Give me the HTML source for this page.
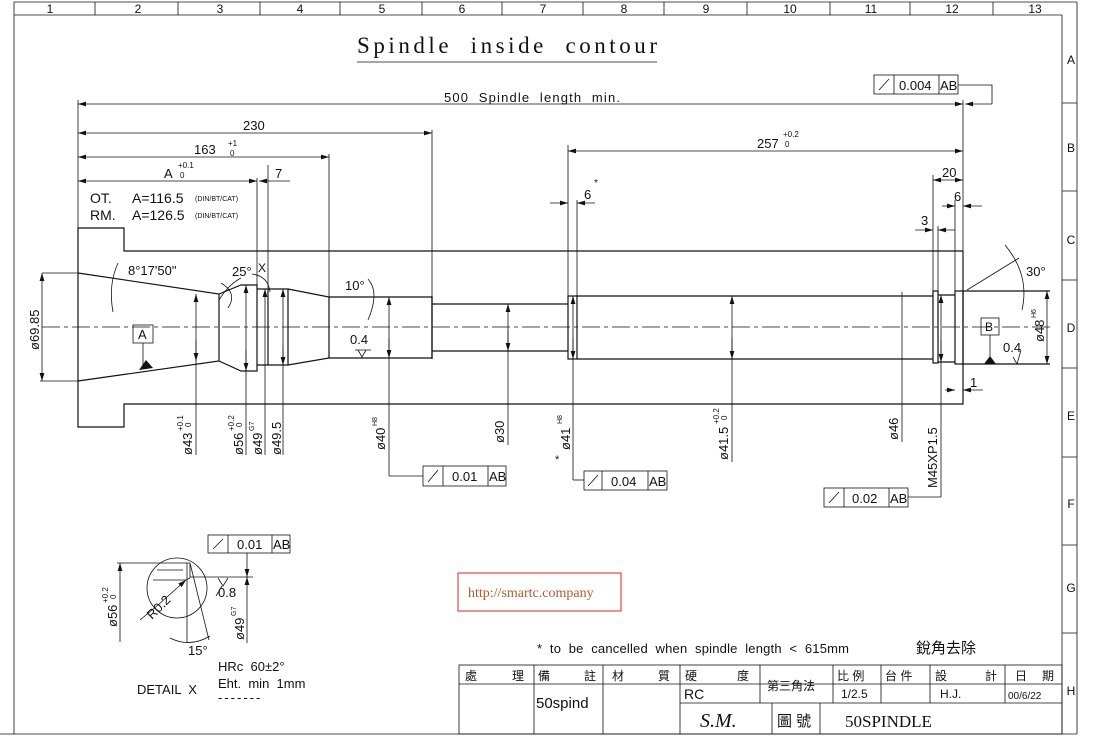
<!DOCTYPE html>
<html><head><meta charset="utf-8"><style>
html,body{margin:0;padding:0;background:#fff;}
svg{display:block;font-family:"Liberation Sans","Noto Sans CJK TC",sans-serif;}
text{fill:#111;white-space:pre;}
.l{stroke:#111;stroke-width:1.2;fill:none;}
.t{stroke:#111;stroke-width:0.8;fill:none;}
.c{stroke:#111;stroke-width:0.8;fill:none;stroke-dasharray:18 4 4 4;}
</style></head><body>
<svg width="1104" height="754" viewBox="0 0 1104 754" xmlns="http://www.w3.org/2000/svg" xml:space="preserve">
<defs>
<marker id="a" viewBox="0 0 10 6" refX="10" refY="3" markerWidth="8" markerHeight="5" orient="auto-start-reverse" markerUnits="userSpaceOnUse"><path d="M0,0L10,3L0,6z" fill="#111"/></marker>
</defs>
<g class="t">
<line x1="14" y1="2" x2="14" y2="734"/>
<line x1="14" y1="2" x2="1077" y2="2"/>
<line x1="14" y1="15" x2="1062" y2="15"/>
<line x1="1062" y1="15" x2="1062" y2="734"/>
<line x1="1077" y1="2" x2="1077" y2="734"/>
<line x1="0" y1="734" x2="1077" y2="734"/>
<path d="M95,2V15M178,2V15M260,2V15M340,2V15M422,2V15M502,2V15M583,2V15M664,2V15M747,2V15M830,2V15M910,2V15M993,2V15"/>
<path d="M1062,103H1077M1062,191H1077M1062,280H1077M1062,368H1077M1062,457H1077M1062,545H1077M1062,633H1077"/>
</g>
<g font-size="12" text-anchor="middle">
<text x="50" y="13">1</text><text x="138" y="13">2</text><text x="220" y="13">3</text><text x="300" y="13">4</text><text x="382" y="13">5</text><text x="462" y="13">6</text><text x="543" y="13">7</text><text x="624" y="13">8</text><text x="706" y="13">9</text><text x="790" y="13">10</text><text x="871" y="13">11</text><text x="952" y="13">12</text><text x="1035" y="13">13</text>
<text x="1071" y="64">A</text><text x="1071" y="152">B</text><text x="1071" y="244">C</text><text x="1071" y="332">D</text><text x="1071" y="420">E</text><text x="1071" y="508">F</text><text x="1071" y="592">G</text><text x="1071" y="695">H</text>
</g>
<text x="357" y="53" font-family="Liberation Serif,serif" font-size="23" textLength="300" lengthAdjust="spacing">Spindle  inside  contour</text>
<line class="t" x1="357" y1="62" x2="657" y2="62"/>

<g class="l">
<path d="M963,251H124V228H78V427H124V404H963V251"/>
<path d="M78,273L219,294V361L78,381"/>
<path d="M219,294L241,285H257V371H241L219,361"/>
<path d="M257,289H268V365H257"/>
<path d="M268,289H288L329,297V358L288,365H268M288,289V365"/>
<path d="M329,297H432V358H329"/>
<path d="M432,296V359M432,304H568M432,351H568"/>
<rect x="568" y="296" width="9" height="63"/>
<path d="M577,296H933M577,359H933"/>
<rect x="933" y="291" width="5" height="72"/>
<path d="M938,295H955M938,362H955"/>
<rect x="955" y="291" width="8" height="73"/>
<path d="M963,291H1050M963,364H1050"/>
</g>
<line class="c" x1="42" y1="327" x2="1052" y2="327"/>

<g class="t">
<path d="M78,100V228M963,100V251M432,130V296M329,154V297M257,178V285M268,165V289"/>
<line x1="78" y1="104" x2="963" y2="104" marker-start="url(#a)" marker-end="url(#a)"/>
<line x1="78" y1="133" x2="432" y2="133" marker-start="url(#a)" marker-end="url(#a)"/>
<line x1="78" y1="157" x2="329" y2="157" marker-start="url(#a)" marker-end="url(#a)"/>
<line x1="78" y1="181" x2="257" y2="181" marker-start="url(#a)" marker-end="url(#a)"/>
<line x1="259" y1="181" x2="290" y2="181" marker-start="url(#a)"/>
<path d="M568,145V296M577,200V296M933,175V291M955,200V291M938,226V291"/>
<line x1="568" y1="151" x2="963" y2="151" marker-start="url(#a)" marker-end="url(#a)"/>
<line x1="550" y1="203" x2="568" y2="203" marker-end="url(#a)"/>
<line x1="595" y1="203" x2="577" y2="203" marker-end="url(#a)"/>
<line x1="933" y1="180" x2="963" y2="180" marker-start="url(#a)" marker-end="url(#a)"/>
<line x1="942" y1="206" x2="955" y2="206" marker-end="url(#a)"/>
<line x1="982" y1="206" x2="963" y2="206" marker-end="url(#a)"/>
<line x1="915" y1="230" x2="933" y2="230" marker-end="url(#a)"/>
<line x1="955" y1="230" x2="938" y2="230" marker-end="url(#a)"/>
<line x1="945" y1="390" x2="955" y2="390" marker-end="url(#a)"/>
<line x1="983" y1="390" x2="963" y2="390" marker-end="url(#a)"/>
<path d="M963,364V395"/>
</g>
<g font-size="13">
<text x="444" y="102" textLength="176" lengthAdjust="spacing">500  Spindle  length  min.</text>
<text x="243" y="130">230</text>
<text x="194" y="154">163</text><text x="228" y="146" font-size="8">+1</text><text x="230" y="156" font-size="8">0</text>
<text x="164" y="178">A</text><text x="178" y="168" font-size="8">+0.1</text><text x="180" y="178" font-size="8">0</text>
<text x="275" y="178">7</text>
<text x="90" y="203" font-size="14">OT.</text><text x="132" y="203" font-size="14">A=116.5</text><text x="195" y="201" font-size="7">(DIN/BT/CAT)</text>
<text x="90" y="220" font-size="14">RM.</text><text x="132" y="220" font-size="14">A=126.5</text><text x="195" y="218" font-size="7">(DIN/BT/CAT)</text>
<text x="757" y="148">257</text><text x="783" y="137" font-size="8">+0.2</text><text x="785" y="147" font-size="8">0</text>
<text x="584" y="199">6</text><text x="594" y="186" font-size="10">*</text>
<text x="942" y="177">20</text>
<text x="954" y="201">6</text>
<text x="921" y="225">3</text>
<text x="970" y="387">1</text>
<text x="128" y="275">8°17'50"</text>
<text x="232" y="276">25°</text>
<text x="258" y="272" font-size="12">X</text>
<text x="345" y="290">10°</text>
<text x="350" y="344">0.4</text>
<text x="1026" y="276">30°</text>
<text x="1003" y="352">0.4</text>
</g>
<g class="t">
<path d="M118,263Q108,285 113,312"/>
<path d="M221,283Q238,293 228,308M219,300Q228,285 241,278"/>
<path d="M252,274Q268,276 270,292"/>
<path d="M368,279Q380,292 368,320"/>
<path d="M967,290L1019,258M1005,245Q1030,275 1022,310"/>
<path d="M42,273H78M40,381H78"/>
<line x1="42" y1="273" x2="42" y2="381" marker-start="url(#a)" marker-end="url(#a)"/>
<path d="M358,350L362,357L366,350M355,350H371"/>
<path d="M1013,357L1017,364L1021,350"/>
</g>
<rect class="t" x="133" y="325" width="20" height="18"/><text x="138" y="339" font-size="13">A</text>
<path class="t" d="M143,343V365"/><path d="M139,370L153,368L146,360z" fill="#111"/>
<rect class="t" x="981" y="318" width="18" height="17"/><text x="985" y="331" font-size="12">B</text>
<path class="t" d="M990,335V358"/><path d="M984,364H996L990,356z" fill="#111"/>
<line class="t" x1="1047" y1="291" x2="1047" y2="364" marker-start="url(#a)" marker-end="url(#a)"/>

<g class="t">
<line x1="196" y1="294" x2="196" y2="455" marker-start="url(#a)"/>
<line x1="196" y1="361" x2="196" y2="340" marker-start="url(#a)"/>
<line x1="246" y1="285" x2="246" y2="455" marker-start="url(#a)"/>
<line x1="246" y1="371" x2="246" y2="350" marker-start="url(#a)"/>
<line x1="265" y1="289" x2="265" y2="455" marker-start="url(#a)"/>
<line x1="283" y1="289" x2="283" y2="455" marker-start="url(#a)"/>
<line x1="283" y1="365" x2="283" y2="345" marker-start="url(#a)"/>
<line x1="389" y1="297" x2="389" y2="476" marker-start="url(#a)"/>
<line x1="389" y1="358" x2="389" y2="338" marker-start="url(#a)"/>
<path d="M389,476H423"/>
<line x1="508" y1="304" x2="508" y2="445" marker-start="url(#a)"/>
<line x1="508" y1="351" x2="508" y2="330" marker-start="url(#a)"/>
<line x1="573" y1="296" x2="573" y2="480" marker-start="url(#a)"/>
<line x1="573" y1="359" x2="573" y2="338" marker-start="url(#a)"/>
<path d="M573,480H584"/>
<line x1="732" y1="296" x2="732" y2="462" marker-start="url(#a)"/>
<line x1="732" y1="359" x2="732" y2="338" marker-start="url(#a)"/>
<path d="M902,292V442"/>
<line x1="941" y1="295" x2="941" y2="497" marker-start="url(#a)"/>
<line x1="941" y1="362" x2="941" y2="340" marker-start="url(#a)"/>
<path d="M941,497H908"/>
<path d="M958,85H992V104"/>
<line x1="992" y1="104" x2="965" y2="104" marker-end="url(#a)"/>
</g>
<g font-size="13">
<g transform="translate(192,455) rotate(-90)"><text>ø43</text><text x="24" y="-9" font-size="8">+0.1</text><text x="28" y="-1" font-size="8">0</text></g>
<g transform="translate(243,455) rotate(-90)"><text>ø56</text><text x="24" y="-9" font-size="8">+0.2</text><text x="28" y="-1" font-size="8">0</text></g>
<g transform="translate(262,455) rotate(-90)"><text>ø49</text><text x="24" y="-8" font-size="7">G7</text></g>
<g transform="translate(281,455) rotate(-90)"><text>ø49.5</text></g>
<g transform="translate(385,450) rotate(-90)"><text>ø40</text><text x="24" y="-8" font-size="7">H8</text></g>
<g transform="translate(504,443) rotate(-90)"><text>ø30</text></g>
<g transform="translate(570,450) rotate(-90)"><text>ø41</text><text x="26" y="-8" font-size="7">H8</text></g>
<text x="555" y="463" font-size="11">*</text>
<g transform="translate(728,460) rotate(-90)"><text>ø41.5</text><text x="36" y="-9" font-size="8">+0.2</text><text x="40" y="-1" font-size="8">0</text></g>
<g transform="translate(898,440) rotate(-90)"><text>ø46</text></g>
<g transform="translate(937,488) rotate(-90)"><text>M45XP1.5</text></g>
<g transform="translate(1044,342) rotate(-90)"><text>ø48</text><text x="24" y="-8" font-size="7">H6</text></g>
<g transform="translate(39,350) rotate(-90)"><text>ø69.85</text></g>
</g>
<g font-size="13">
<g transform="translate(423,466)"><rect class="t" width="83" height="20"/><path class="t" d="M20,0V20M65,0V20M5,16L15,4"/><text x="29" y="15">0.01</text><text x="66" y="15">AB</text></g>
<g transform="translate(584,471)"><rect class="t" width="83" height="19"/><path class="t" d="M18,0V19M64,0V19M4,15L14,4"/><text x="27" y="15">0.04</text><text x="65" y="15">AB</text></g>
<g transform="translate(824,488)"><rect class="t" width="84" height="19"/><path class="t" d="M20,0V19M65,0V19M5,15L15,4"/><text x="28" y="15">0.02</text><text x="66" y="15">AB</text></g>
<g transform="translate(874,75)"><rect class="t" width="84" height="19"/><path class="t" d="M20,0V19M65,0V19M5,15L15,4"/><text x="25" y="15">0.004</text><text x="66" y="15">AB</text></g>
<g transform="translate(208,535)"><rect class="t" width="82" height="18"/><path class="t" d="M20,0V18M64,0V18M5,14L15,4"/><text x="29" y="14">0.01</text><text x="65" y="14">AB</text></g>
</g>
<g class="t">
<circle cx="177" cy="588" r="30"/>
<path d="M117,563H190M190,563V578L186,580H153M157,570H183M190,563L209,640"/>
<path d="M187,563V642"/>
<line x1="120" y1="563" x2="120" y2="642" marker-start="url(#a)"/>
<line x1="186" y1="580" x2="158" y2="605" marker-start="url(#a)"/>
<path d="M158,605L140,620"/>
<path d="M190,577H253"/>
<line x1="247" y1="553" x2="247" y2="577" marker-end="url(#a)"/>
<line x1="247" y1="643" x2="247" y2="577" marker-end="url(#a)"/>
<path d="M170,638Q190,648 210,636"/>
<path d="M218,578L223,586L228,578M216,596L222,586"/>
</g>
<g font-size="13">
<g transform="translate(117,627) rotate(-90)"><text>ø56</text><text x="24" y="-9" font-size="8">+0.2</text><text x="28" y="-1" font-size="8">0</text></g>
<g transform="translate(152,620) rotate(-45)"><text>R0.2</text></g>
<g transform="translate(244,640) rotate(-90)"><text>ø49</text><text x="24" y="-8" font-size="7">G7</text></g>
<text x="218" y="597">0.8</text>
<text x="188" y="655">15°</text>
<text x="218" y="671">HRc  60±2°</text>
<text x="218" y="688">Eht.  min  1mm</text>
<text x="218" y="702" letter-spacing="2">-------</text>
<text x="137" y="694">DETAIL  X</text>
</g>
<rect x="458" y="573" width="163" height="38" fill="none" stroke="#e02020" stroke-width="1"/>
<text x="468" y="597" font-family="Liberation Serif,serif" font-size="14" style="fill:#b05a2a">http://smartc.company</text>
<text x="537" y="653" font-size="13" textLength="312" lengthAdjust="spacing">*  to  be  cancelled  when  spindle  length  &lt;  615mm</text>
<text x="916" y="653" font-size="15">銳角去除</text>
<g class="t">
<rect x="459" y="665" width="603" height="69"/>
<path d="M459,684H1062M680,703H1062M534,665V734M603,665V734M680,665V734M760,665V703M833,665V703M881,665V703M930,665V703M1005,665V703M772,703V734M820,703V734"/>
</g>
<g font-size="12">
<text x="465" y="680">處</text><text x="512" y="680">理</text>
<text x="538" y="680">備</text><text x="584" y="680">註</text>
<text x="612" y="680">材</text><text x="658" y="680">質</text>
<text x="685" y="680">硬</text><text x="737" y="680">度</text>
<text x="767" y="690">第三角法</text>
<text x="837" y="680">比 例</text><text x="885" y="680">台 件</text>
<text x="935" y="680">設</text><text x="985" y="680">計</text>
<text x="1015" y="680">日</text><text x="1042" y="680">期</text>
<text x="536" y="708" font-size="15">50spind</text>
<text x="684" y="699" font-size="14">RC</text>
<text x="841" y="698">1/2.5</text>
<text x="940" y="698">H.J.</text>
<text x="1008" y="699" font-size="10">00/6/22</text>
<text x="700" y="727" font-family="Liberation Serif,serif" font-style="italic" font-size="20">S.M.</text>
<text x="777" y="726" font-size="15">圖 號</text>
<text x="845" y="727" font-family="Liberation Serif,serif" font-size="17">50SPINDLE</text>
</g>
</svg>
</body></html>
